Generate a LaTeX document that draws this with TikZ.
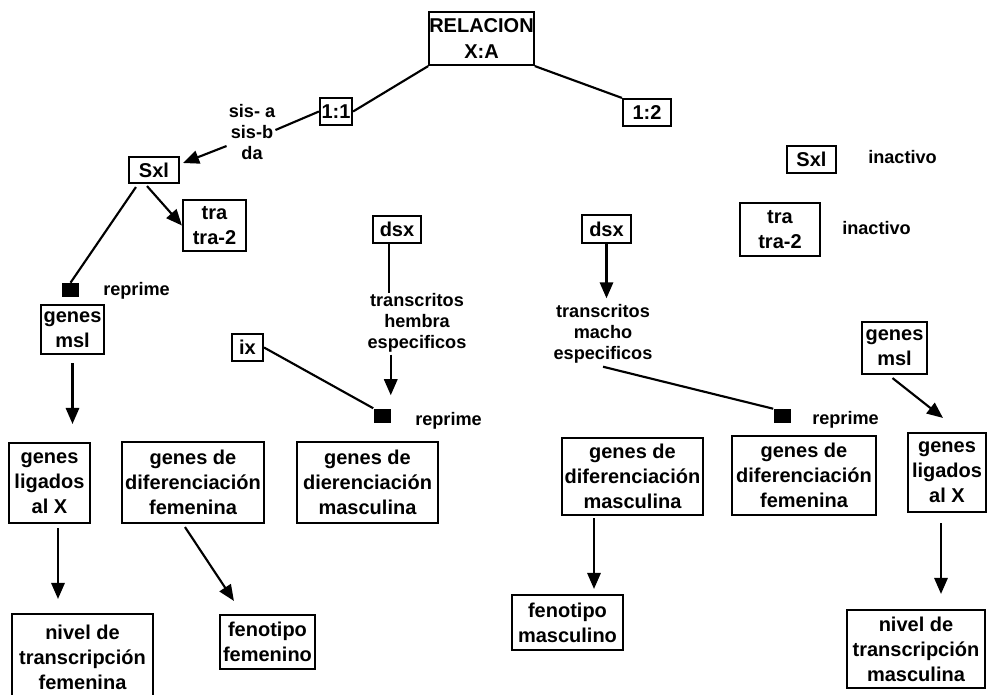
\documentclass[tikz,border=0pt]{standalone}
\usepackage{fontspec}
\setmainfont{Liberation Sans}
\usetikzlibrary{calc,arrows.meta}
\tikzset{
 bx/.style={draw, line width=1.6pt, inner sep=0pt, align=center, font=\fontsize{15}{18.75}\selectfont\bfseries},
 sz/.style 2 args={minimum width=#1*0.75pt, minimum height=#2*0.75pt},
 lbl/.style={inner sep=0pt, align=center, font=\fontsize{13.6}{15.75}\selectfont\bfseries},
 sq/.style={fill=black, inner sep=0pt, minimum width=12.75pt, minimum height=10.5pt},
 ln/.style={line width=1.6pt},
 arr/.style={line width=1.6pt, -{Triangle[length=12pt,width=10pt]}},
}
\begin{document}
\begin{tikzpicture}[x=0.75pt,y=-0.75pt]
\useasboundingbox (0,0) rectangle (989,694);
% top
\node[bx,sz={99}{53},font=\fontsize{15}{20}\selectfont\bfseries] (rel) at (481.5,38.5) {RELACION\\X:A};
\node[bx,sz={32}{27}] (r11) at (336,111.5) {1:1};
\node[bx,sz={48}{27}] (r12) at (647,112.5) {1:2};
\node[lbl] (sis) at (252,132) {sis- a\\sis-b\\da};
% left branch
\node[bx,sz={50}{26}] (sxlL) at (154,170) {Sxl};
\node[bx,sz={63}{51}] (traL) at (214.5,225.5) {tra\\tra-2};
\node[sq] (sqL1) at (70.5,290) {};
\node[lbl,anchor=west] (rep1) at (103,291) {reprime};
\node[bx,sz={63}{49}] (mslL) at (72.5,329.5) {genes\\msl};
\node[bx,sz={81}{80}] (ligL) at (49.5,483) {genes\\ligados\\al X};
\node[bx,sz={142}{81}] (difF) at (193,482.5) {genes de\\diferenciación\\femenina};
\node[bx,sz={141}{81}] (difM) at (367.5,482.5) {genes de\\dierenciación\\masculina};
\node[bx,sz={141}{86}] (nivF) at (82.5,657) {nivel de\\transcripción\\femenina};
\node[bx,sz={95}{54}] (fenF) at (267.5,642) {fenotipo\\femenino};
\node[bx,sz={48}{27}] (dsxL) at (397,229.5) {dsx};
\node[lbl] (hem) at (417,323) {transcritos\\hembra\\especificos};
\node[bx,sz={31}{27}] (ix) at (247.5,347.5) {ix};
\node[sq] (sqL2) at (382,415.5) {};
\node[lbl,anchor=west] (rep2) at (415,421) {reprime};
% right branch
\node[bx,sz={49}{27}] (sxlR) at (811.5,159.5) {Sxl};
\node[lbl,anchor=west] (ina1) at (868,157) {inactivo};
\node[bx,sz={80}{53}] (traR) at (780,229.5) {tra\\tra-2};
\node[lbl,anchor=west] (ina2) at (842,228) {inactivo};
\node[bx,sz={49}{28}] (dsxR) at (606.5,229) {dsx};
\node[lbl] (mac) at (603,334) {transcritos\\macho\\especificos};
\node[sq] (sqR) at (782,416) {};
\node[lbl,anchor=west] (rep3) at (812,420) {reprime};
\node[bx,sz={65}{52}] (mslR) at (894.5,348) {genes\\msl};
\node[bx,sz={78}{79}] (ligR) at (947,472.5) {genes\\ligados\\al X};
\node[bx,sz={138}{78}] (nivR) at (916,649) {nivel de\\transcripción\\masculina};
\node[bx,sz={141}{77}] (difMR) at (632.5,476.5) {genes de\\diferenciación\\masculina};
\node[bx,sz={144}{79}] (difFR) at (804,475.5) {genes de\\diferenciación\\femenina};
\node[bx,sz={111}{55}] (fenM) at (567.5,622.5) {fenotipo\\masculino};
% connectors
\draw[ln] (rel.south west) -- (r11.east);
\draw[ln] (rel.south east) -- (r12.north west);
\draw[ln] (r11.west) -- ($(sis.east)+(0,-2)$);
\draw[arr] ($(sis.west)+(-2,14)$) -- ($(sxlL.east)+(3,-7)$);
\draw[arr] ($(sxlL.south)+(-7,2)$) -- (traL.west);
\draw[ln] ($(sxlL.south west)+(8,3)$) -- (sqL1.north);
\draw[arr] ($(mslL.south)+(0,8)$) -- ($(ligL.north -| mslL.south)+(0,-18)$);
\draw[arr] ($(ligL.south)+(8.5,4)$) -- ($(nivF.north -| ligL.south)+(8.5,-14)$);
\draw[arr] ($(difF.south)+(-8,3)$) -- ($(fenF.north west)+(15,-13)$);
\draw[ln] ($(dsxL.south)+(-8,0)$) -- ($(hem.north -| dsxL.south)+(-8,0)$);
\draw[arr] ($(hem.south -| sqL2.north east)+(0,2)$) -- ($(sqL2.north east)+(0,-13)$);
\draw[ln] (ix.east) -- (sqL2.north west);
\draw[arr] (dsxR.south) -- ($(mac.north -| dsxR.south)+(0,-6)$);
\draw[ln] ($(mac.south)+(0,3)$) -- (sqR.north west);
\draw[arr] ($(mslR.south)+(-2,3)$) -- ($(ligR.north)+(-4,-14)$);
\draw[arr] ($(ligR.south)+(-6,10)$) -- ($(nivR.north -| ligR.south)+(-6,-15)$);
\draw[arr] ($(difMR.south)+(-38.5,2)$) -- ($(fenM.north -| difMR.south)+(-38.5,-5)$);
\end{tikzpicture}
\end{document}
